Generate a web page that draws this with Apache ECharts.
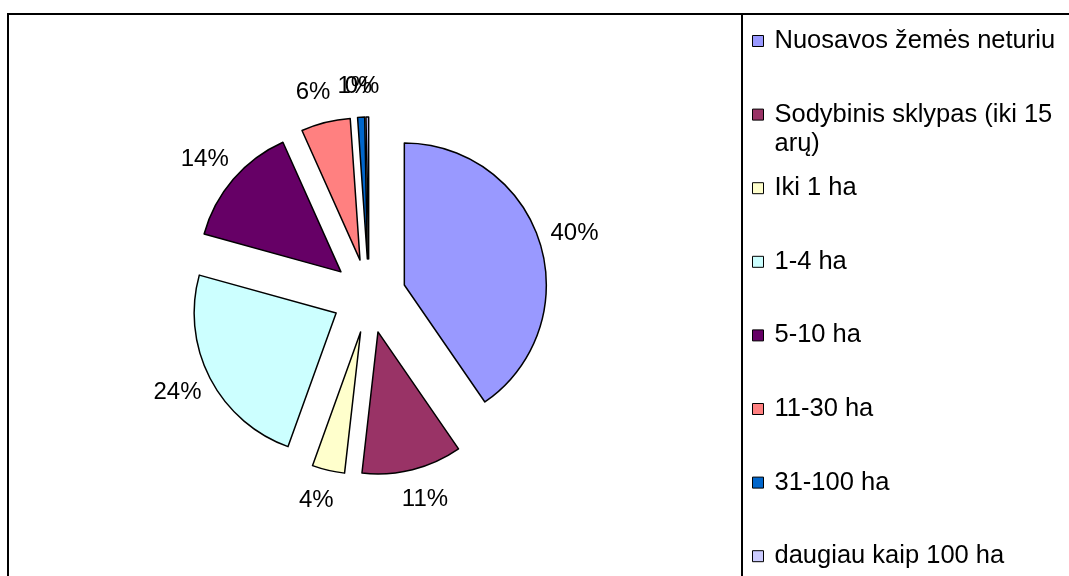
<!DOCTYPE html>
<html>
<head>
<meta charset="utf-8">
<script src="https://cdn.jsdelivr.net/npm/echarts@6/dist/echarts.min.js"></script>
<style>
  html, body { margin: 0; padding: 0; background: #fff; }
  #chart { width: 1069px; height: 576px; }
</style>
</head>
<body>
<div id="chart"></div>
<script>
const categories = [
  'Nuosavos žemės neturiu',
  'Sodybinis sklypas (iki 15 arų)',
  'Iki 1 ha',
  '1-4 ha',
  '5-10 ha',
  '11-30 ha',
  '31-100 ha',
  'daugiau kaip 100 ha'
];
const values = [40.4, 11.4, 3.7, 23.8, 14.0, 5.6, 0.8, 0.3];
const colors = ['#9999FF', '#993366', '#FFFFCC', '#CCFFFF', '#660066', '#FF8080', '#0066CC', '#CCCCFF'];

const FONT = '"Liberation Sans", Arial, sans-serif';
const LINE_H = 29;
const WRAPPED = categories[1];
const chart = echarts.init(document.getElementById('chart'), null, { renderer: 'canvas' });

const pieData = categories.map((name, i) => ({
  name: name,
  value: values[i],
  selected: true,
  itemStyle: { color: colors[i] }
}));

// Every legend entry gets the same box height (3 lines). The entry that wraps
// gets an empty first line so its first text line sits level with its icon.
const legendData = categories.map(name => ({
  name: name,
  textStyle: { padding: name === WRAPPED ? [0, 0, 0, 6] : [LINE_H, 0, LINE_H, 6] }
}));

chart.setOption({
  backgroundColor: '#ffffff',
  animation: false,
  graphic: [
    { type: 'rect', z: 0, silent: true,
      shape: { x: 8, y: 14, width: 1200, height: 700 },
      style: { fill: 'none', stroke: '#000', lineWidth: 2 } },
    { type: 'rect', z: 0, silent: true,
      shape: { x: 742, y: 14, width: 500, height: 700 },
      style: { fill: 'none', stroke: '#000', lineWidth: 2 } }
  ],
  legend: {
    orient: 'vertical',
    left: 752,
    top: -2.5,
    height: 800,
    padding: 0,
    itemGap: 73.6 - 3 * LINE_H,
    itemWidth: 11,
    itemHeight: 11,
    icon: 'rect',
    selectedMode: false,
    itemStyle: { borderColor: '#000', borderWidth: 1 },
    formatter: name => (name === WRAPPED ? '\n' : '') + name,
    textStyle: {
      fontFamily: FONT,
      fontSize: 25.5,
      color: '#000',
      lineHeight: LINE_H,
      width: 312,
      overflow: 'break'
    },
    data: legendData
  },
  series: [{
    type: 'pie',
    center: [369, 296],
    radius: [0, 142],
    startAngle: 90,
    clockwise: true,
    silent: true,
    selectedMode: 'multiple',
    selectedOffset: 37,
    avoidLabelOverlap: false,
    emphasis: { disabled: true },
    itemStyle: { borderColor: '#000', borderWidth: 1.5 },
    select: { itemStyle: { borderColor: '#000', borderWidth: 1.5 } },
    label: {
      show: true,
      position: 'outside',
      color: '#000',
      fontFamily: FONT,
      fontSize: 24,
      formatter: p => Math.round(p.percent) + '%'
    },
    labelLine: { show: false, length: 31, length2: 0 },
    labelLayout: { align: 'center', verticalAlign: 'middle', hideOverlap: false, moveOverlap: false },
    data: pieData
  }]
});
</script>
</body>
</html>
